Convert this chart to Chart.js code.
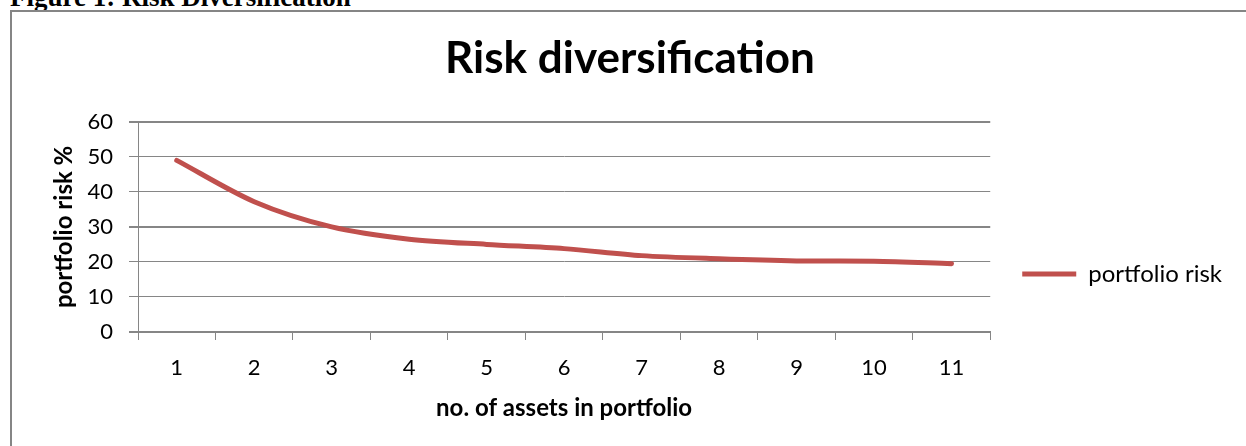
<!DOCTYPE html>
<html lang="en">
<head>
<meta charset="UTF-8">
<title>Risk diversification</title>
<script src="https://cdn.jsdelivr.net/npm/chart.js@4/dist/chart.umd.min.js"></script>
<style>
  html, body { margin: 0; padding: 0; background: #fff; overflow: hidden; }
  body { width: 1246px; height: 446px; position: relative; }
  .caption { position: absolute; left: 10px; top: -16px; font: bold 27px "Liberation Serif", "Times New Roman", serif; line-height: 27px; color: #000; white-space: nowrap; }
  .frame { position: absolute; left: 10px; top: 10px; width: 1240px; height: 460px; border-left: 2px solid #858585; border-top: 2px solid #858585; }
  #chart { position: absolute; left: 0; top: 0; }
</style>
</head>
<body>
<div class="caption">Figure 1: Risk Diversification</div>
<div class="frame"></div>
<canvas id="chart" width="1246" height="446"></canvas>
<script>
// values
const assets = ["1", "2", "3", "4", "5", "6", "7", "8", "9", "10", "11"];
const portfolioRisk = [49, 37.2, 30, 26.5, 25, 23.8, 21.8, 20.9, 20.3, 20.2, 19.5];
const yTicks = [0, 10, 20, 30, 40, 50, 60];

const RED = "#C0504D";
const GRID = "#868686";
const FONT = "Lato, 'Open Sans', sans-serif";

// Excel puts the legend lower than the middle of the plot
const legendShift = {
  id: "legendShift",
  afterLayout(chart) {
    chart.legend.top += 47;
    chart.legend.bottom += 47;
  }
};

new Chart(document.getElementById("chart"), {
  type: "line",
  data: {
    labels: assets,
    datasets: [{
      label: "portfolio risk",
      data: portfolioRisk,
      borderColor: RED,
      backgroundColor: RED,
      borderWidth: 5,
      borderCapStyle: "round",
      tension: 0.3,
      pointRadius: 0,
      fill: false
    }]
  },
  options: {
    responsive: false,
    animation: false,
    devicePixelRatio: 1,
    layout: { padding: { left: 28, right: 14, top: 0, bottom: 0 } },
    plugins: {
      title: {
        display: true,
        text: "Risk diversification",
        color: "#000",
        font: { family: FONT, size: 44, weight: "bold", lineHeight: 1.2 },
        padding: { top: 32, bottom: 37 }
      },
      legend: {
        position: "right",
        fullSize: false,
        labels: {
          color: "#000",
          font: { family: FONT, size: 24 },
          usePointStyle: true,
          pointStyle: "line",
          pointStyleWidth: 54,
          padding: 32
        }
      },
      tooltip: { enabled: false }
    },
    scales: {
      x: {
        offset: true,
        grid: { offset: true, drawOnChartArea: false, drawTicks: true, tickLength: 8, color: GRID },
        border: { color: GRID, width: 2 },
        ticks: { color: "#000", font: { family: FONT, size: 22 }, padding: 15 },
        title: {
          display: true,
          text: "no. of assets in portfolio",
          color: "#000",
          font: { family: FONT, size: 24, weight: "bold", lineHeight: 1.2 },
          padding: { top: 0, bottom: 23 }
        },
        afterFit(scale) { scale.height = 114; }
      },
      y: {
        min: 0,
        max: 60,
        afterBuildTicks(scale) { scale.ticks = yTicks.map(v => ({ value: v })); },
        grid: {
          color: GRID,
          lineWidth: ctx => (ctx.tick && [0, 30, 60].includes(ctx.tick.value)) ? 2 : 1,
          tickLength: 9
        },
        border: { color: GRID, width: 1 },
        ticks: { color: "#000", font: { family: FONT, size: 22 }, padding: 16 },
        title: {
          display: true,
          text: "portfolio risk %",
          color: "#000",
          font: { family: FONT, size: 24, weight: "bold", lineHeight: 1.2 },
          padding: { top: 22, bottom: 0 }
        },
        afterFit(scale) { scale.width = 110; }
      }
    }
  },
  plugins: [legendShift]
});
</script>
</body>
</html>
